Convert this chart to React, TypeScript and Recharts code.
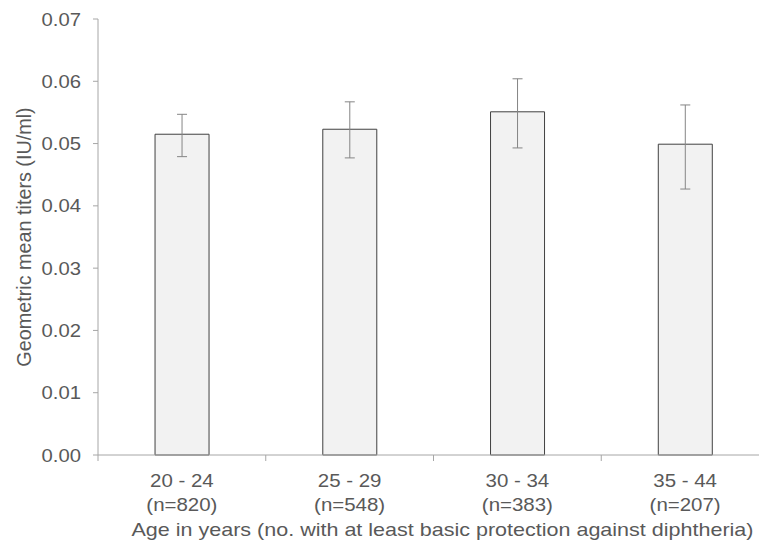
import { BarChart, Bar, XAxis, YAxis, ErrorBar, Label } from 'recharts';

const ageGroups = ['20 - 24', '25 - 29', '30 - 34', '35 - 44'];
const sampleSizes = ['(n=820)', '(n=548)', '(n=383)', '(n=207)'];
const gmt = [0.0515, 0.0523, 0.0551, 0.0499];
const ciLow = [0.0479, 0.0477, 0.0493, 0.0427];
const ciHigh = [0.0547, 0.0567, 0.0604, 0.0562];
const yTicks = [0, 0.01, 0.02, 0.03, 0.04, 0.05, 0.06, 0.07];

const chartData = ageGroups.map((age, i) => ({
  age,
  gmt: gmt[i],
  err: [gmt[i] - ciLow[i], ciHigh[i] - gmt[i]],
}));

const TEXT = '#595959';
const AXIS = '#a6a6a6';
const PLOT_W = 671;
const STEP = PLOT_W / ageGroups.length;

// the source picture is slightly stretched horizontally, so text gets a scaleX
const AgeTick = (props: any) => {
  const { x, y, payload, index } = props;
  const left = x - STEP / 2;
  return (
    <g>
      <line x1={left} x2={left} y1={y - 8} y2={y - 2} stroke={AXIS} />
      {index === ageGroups.length - 1 && (
        <line x1={x + STEP / 2} x2={x + STEP / 2} y1={y - 8} y2={y - 2} stroke={AXIS} />
      )}
      <text transform={`translate(${x},${y}) scale(1.1,1)`} textAnchor="middle" fill={TEXT} fontSize={18.6}>
        <tspan x={0} dy={24}>{payload.value}</tspan>
        <tspan x={0} dy={24}>{sampleSizes[index]}</tspan>
      </text>
    </g>
  );
};

const ValueTick = (props: any) => {
  const { x, y, payload } = props;
  return (
    <text
      transform={`translate(${x},${y}) scale(1.09,1)`}
      textAnchor="end"
      dy="0.355em"
      fill={TEXT}
      fontSize={18.6}
    >
      {Number(payload.value).toFixed(2)}
    </text>
  );
};

const XTitle = (props: any) => {
  const { viewBox } = props;
  const cx = viewBox.x + viewBox.width / 2 + 9;
  const by = viewBox.y + viewBox.height - 7;
  return (
    <text transform={`translate(${cx},${by}) scale(1.17,1)`} textAnchor="middle" fill={TEXT} fontSize={18.4}>
      Age in years (no. with at least basic protection against diphtheria)
    </text>
  );
};

const YTitle = (props: any) => {
  const { viewBox } = props;
  const cy = viewBox.y + viewBox.height / 2;
  return (
    <text
      transform={`translate(24,${cy}) rotate(-90)`}
      textAnchor="middle"
      dy="0.355em"
      fill={TEXT}
      fontSize={19.8}
    >
      Geometric mean titers (IU/ml)
    </text>
  );
};

export default function App() {
  return (
    <div style={{ position: 'absolute', left: 0, top: 0, width: 759, height: 543, overflow: 'hidden', background: '#fff' }}>
      <BarChart
        width={779}
        height={543}
        data={chartData}
        margin={{ top: 19, right: 10, left: 0, bottom: 0 }}
        barCategoryGap="34%"
        style={{ fontFamily: '"Liberation Sans", Arial, sans-serif' }}
      >
        <XAxis
          dataKey="age"
          height={88}
          tick={<AgeTick />}
          tickLine={false}
          interval={0}
          axisLine={{ stroke: AXIS }}
        >
          <Label content={<XTitle />} />
        </XAxis>
        <YAxis
          width={98}
          domain={[0, 0.07]}
          ticks={yTicks}
          tick={<ValueTick />}
          tickSize={5}
          tickMargin={12}
          tickLine={{ stroke: AXIS }}
          axisLine={{ stroke: AXIS }}
        >
          <Label content={<YTitle />} />
        </YAxis>
        <Bar dataKey="gmt" fill="#f2f2f2" stroke="#404040" strokeWidth={1} isAnimationActive={false}>
          <ErrorBar dataKey="err" width={5} stroke="#858585" strokeWidth={1} direction="y" />
        </Bar>
      </BarChart>
    </div>
  );
}
